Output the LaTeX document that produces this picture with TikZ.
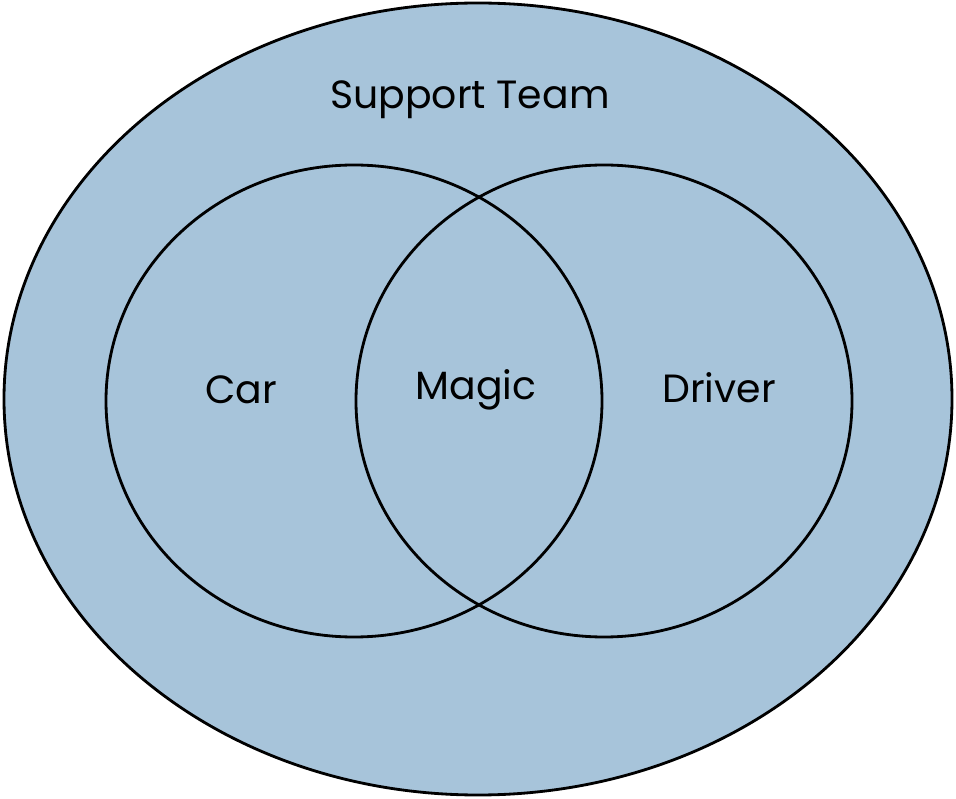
\documentclass[tikz,border=0pt]{standalone}
\usepackage{fontspec}
\setmainfont{Poppins}
\definecolor{teamblue}{HTML}{A7C4DA}
\tikzset{
  venn/.style={draw=black, line width=2pt},
  lbl/.style={font=\fontsize{28}{32}\selectfont}
}
\begin{document}
\begin{tikzpicture}[x=0.025cm, y=0.025cm]
            \useasboundingbox (0, 0) rectangle (956, 798);
            \coordinate (team) at (478, 399);
            \coordinate (car) at (354, 397);
            \coordinate (driver) at (604, 397);
            \filldraw[venn, fill=teamblue] (team) ellipse[x radius=474, y radius=396];
            \draw[venn] (car) ellipse[x radius=248, y radius=236];
            \draw[venn] (driver) ellipse[x radius=248, y radius=236];
            \node[lbl] (teamlbl) at (470, 698) {Support Team};
            \node[lbl] (carlbl) at (241, 408) {Car};
            \node[lbl] (magiclbl) at (476, 408) {Magic};
            \node[lbl] (driverlbl) at (719, 410) {Driver};
          \end{tikzpicture}
\end{document}
